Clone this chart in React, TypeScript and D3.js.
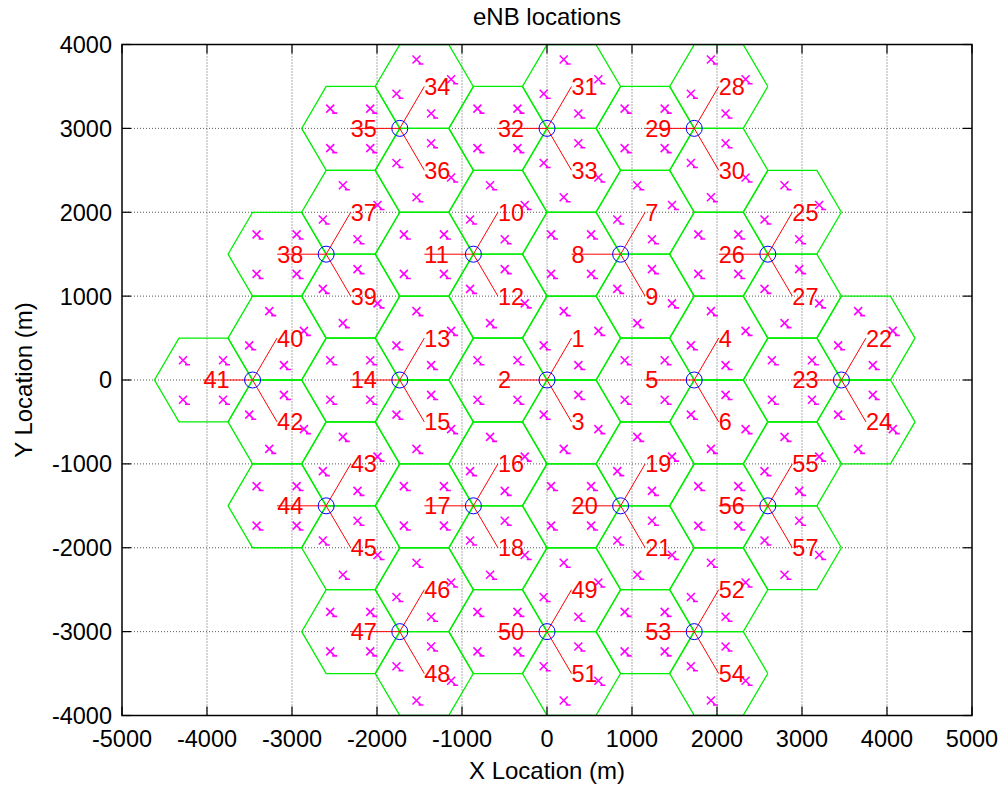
import {useEffect, useRef} from "react";
import * as d3 from "d3";

// eNB site positions (m)
const siteX = [0, 1732, 866, -866, -1732, -866, 866, 3464, 2598, 1732, 0, -1732, -2598, -3464, -2598, -1732, 0, 1732, 2598];
const siteY = [0, 0, 1500, 1500, 0, -1500, -1500, 0, 1500, 3000, 3000, 3000, 1500, 0, -1500, -3000, -3000, -3000, -1500];
// sector boresights (deg), one hexagon per sector
const sectorAngles = [60, 180, 300];
const cellRadius = 577;
// UE drop positions inside each cell, relative to the boresight
const ueAngles = [45, 135, 225, 315];
const ueRadius = 333;

const xTicks = [-5000, -4000, -3000, -2000, -1000, 0, 1000, 2000, 3000, 4000, 5000];
const yTicks = [-4000, -3000, -2000, -1000, 0, 1000, 2000, 3000, 4000];

const FONT = "'Liberation Sans', Arial, Helvetica, sans-serif";

function EnbMap() {

    const ref = useRef(null);

    useEffect(() => {
        const width = 1001, height = 787;
        const left = 122, right = 972, top = 44.5, bottom = 715.5;

        const svg = d3.select(ref.current)
            .append("svg")
            .attr("width", width)
            .attr("height", height)
            .style("position", "absolute")
            .style("left", "0px")
            .style("top", "0px")
            .style("background", "#fff");

        const x = d3.scaleLinear().domain([-5000, 5000]).range([left, right]);
        const y = d3.scaleLinear().domain([-4000, 4000]).range([bottom, top]);

        // grid
        const grid = svg.append("g")
            .attr("stroke", "#222")
            .attr("stroke-width", 1)
            .attr("stroke-dasharray", "1,2")
            .attr("opacity", 0.75);
        grid.selectAll("line.gx")
            .data(xTicks.slice(1, -1))
            .enter().append("line")
            .attr("x1", d => x(d)).attr("x2", d => x(d))
            .attr("y1", top).attr("y2", bottom);
        grid.selectAll("line.gy")
            .data(yTicks.slice(1, -1))
            .enter().append("line")
            .attr("y1", d => y(d)).attr("y2", d => y(d))
            .attr("x1", left).attr("x2", right);

        // build sectors
        const sectors = [];
        siteX.forEach((sx, i) => {
            sectorAngles.forEach((a, k) => {
                const r = a * Math.PI / 180;
                sectors.push({
                    id: i * 3 + k + 1,
                    sx: sx, sy: siteY[i], b: a,
                    cx: sx + cellRadius * Math.cos(r),
                    cy: siteY[i] + cellRadius * Math.sin(r)
                });
            });
        });

        const line = d3.line().x(d => x(d[0])).y(d => y(d[1]));

        // hexagons
        svg.append("g")
            .selectAll("path")
            .data(sectors)
            .enter().append("path")
            .attr("d", d => {
                const pts = d3.range(7).map(j => [
                    d.cx + cellRadius * Math.cos(j * Math.PI / 3),
                    d.cy + cellRadius * Math.sin(j * Math.PI / 3)
                ]);
                return line(pts);
            })
            .attr("fill", "none")
            .attr("stroke", "#00ee00")
            .attr("stroke-width", 1.3);

        // UEs
        const ues = [];
        sectors.forEach(s => {
            ueAngles.forEach(a => {
                const r = (s.b + a) * Math.PI / 180;
                ues.push([s.cx + ueRadius * Math.cos(r), s.cy + ueRadius * Math.sin(r)]);
            });
        });
        svg.append("g")
            .selectAll("path")
            .data(ues)
            .enter().append("path")
            .attr("transform", d => `translate(${x(d[0])},${y(d[1])})`)
            .attr("d", "M-4.5,-4L3.5,4M3.5,-4L-4.5,4M1.5,4.5L6.5,4.5")
            .attr("fill", "none")
            .attr("stroke", "#ff00ff")
            .attr("stroke-width", 1.6);

        // boresight lines
        svg.append("g")
            .selectAll("line")
            .data(sectors)
            .enter().append("line")
            .attr("x1", d => x(d.sx)).attr("y1", d => y(d.sy))
            .attr("x2", d => x(d.cx)).attr("y2", d => y(d.cy))
            .attr("stroke", "#ff0000")
            .attr("stroke-width", 1);

        // sites
        svg.append("g")
            .selectAll("circle")
            .data(siteX)
            .enter().append("circle")
            .attr("cx", d => x(d))
            .attr("cy", (d, i) => y(siteY[i]))
            .attr("r", 8)
            .attr("fill", "none")
            .attr("stroke", "#0000ff")
            .attr("stroke-width", 1);

        // sector labels
        svg.append("g")
            .selectAll("text")
            .data(sectors)
            .enter().append("text")
            .attr("x", d => x(d.cx))
            .attr("y", d => y(d.cy))
            .attr("dy", "0.36em")
            .attr("fill", "#ff0000")
            .style("font-family", FONT)
            .style("font-size", "23.5px")
            .text(d => d.id);

        // axes box + ticks
        svg.append("rect")
            .attr("x", left).attr("y", top)
            .attr("width", right - left).attr("height", bottom - top)
            .attr("fill", "none")
            .attr("stroke", "#000")
            .attr("stroke-width", 1.5);

        const tl = 9;
        const ticks = svg.append("g").attr("stroke", "#000").attr("stroke-width", 1.2);
        xTicks.forEach(t => {
            ticks.append("line").attr("x1", x(t)).attr("x2", x(t)).attr("y1", bottom).attr("y2", bottom - tl);
            ticks.append("line").attr("x1", x(t)).attr("x2", x(t)).attr("y1", top).attr("y2", top + tl);
        });
        yTicks.forEach(t => {
            ticks.append("line").attr("y1", y(t)).attr("y2", y(t)).attr("x1", left).attr("x2", left + tl);
            ticks.append("line").attr("y1", y(t)).attr("y2", y(t)).attr("x1", right).attr("x2", right - tl);
        });

        svg.append("g")
            .selectAll("text")
            .data(xTicks)
            .enter().append("text")
            .attr("x", d => x(d))
            .attr("y", 747)
            .attr("text-anchor", "middle")
            .style("font-family", FONT)
            .style("font-size", "23.5px")
            .text(d => d);

        svg.append("g")
            .selectAll("text")
            .data(yTicks)
            .enter().append("text")
            .attr("x", 112)
            .attr("y", d => y(d))
            .attr("dy", "0.36em")
            .attr("text-anchor", "end")
            .style("font-family", FONT)
            .style("font-size", "23.5px")
            .text(d => d);

        svg.append("text")
            .attr("x", (left + right) / 2)
            .attr("y", 25)
            .attr("text-anchor", "middle")
            .style("font-family", FONT)
            .style("font-size", "24px")
            .text("eNB locations");

        svg.append("text")
            .attr("x", (left + right) / 2)
            .attr("y", 779)
            .attr("text-anchor", "middle")
            .style("font-family", FONT)
            .style("font-size", "24px")
            .text("X Location (m)");

        svg.append("text")
            .attr("transform", `translate(32,${(top + bottom) / 2}) rotate(-90)`)
            .attr("text-anchor", "middle")
            .style("font-family", FONT)
            .style("font-size", "24px")
            .text("Y Location (m)");

        return () => {
            ref.current.querySelector("svg").remove();
        }
    }, []);

    return <div ref={ref}></div>
}

export default function App() {
    return <EnbMap/>
}
